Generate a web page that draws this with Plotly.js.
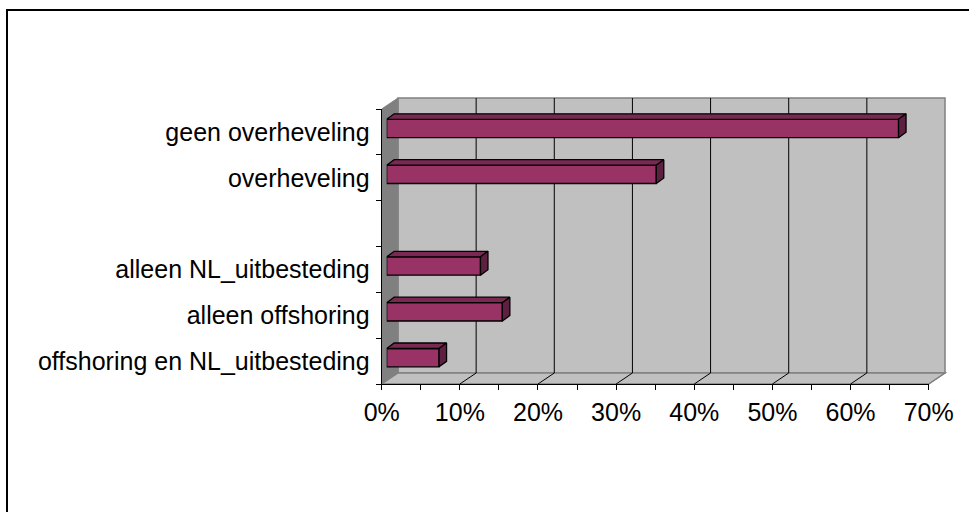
<!DOCTYPE html>
<html>
<head>
<meta charset="utf-8">
<script src="https://cdn.plot.ly/plotly-3.0.1.min.js"></script>
<style>
  html, body { margin: 0; padding: 0; background: #fff; }
  #chart { width: 969px; height: 512px; }
</style>
</head>
<body>
<div id="chart"></div>
<script>
// ---- data (top to bottom, as in the chart; "" is the empty spacer row) ----
const categories = ["geen overheveling", "overheveling", "", "alleen NL_uitbesteding", "alleen offshoring", "offshoring en NL_uitbesteding"];
const values = [65.5, 34.5, null, 12.0, 14.8, 6.7];
const xTickVals = [0, 10, 20, 30, 40, 50, 60, 70];
const xTickText = ["0%", "10%", "20%", "30%", "40%", "50%", "60%", "70%"];

// ---- geometry (pixels) ----
const W = 969, H = 512;
const X0 = 381.7, X1 = 928.7;      // front plane 0% and 70%
const YT = 109, YB = 384;          // front plane top / bottom
const DX = 16.3, DY = 11;          // depth of the 3D box
const BX = 5, BY = 3.4;            // offset of bar front faces from front plane
const BDX = 7.5, BDY = 5.5;        // bar depth
const XMAX = 70;
const nCat = categories.length;
const pxPct = (X1 - X0) / XMAX;
const pxCat = (YB - YT) / nCat;
const fx = x => x / W;
const fy = y => 1 - y / H;

const barColor = '#993366', topColor = '#7a2953', sideColor = '#5e2040';
const FONT = 'Liberation Sans, Arial, sans-serif';
const FS = 25;

// positions: top category gets highest index
const pos = categories.map((c, i) => nCat - 1 - i);
const barW = 0.4;
const ox = BDX / pxPct, oy = BDY / pxCat;

const traces = [];
// invisible trace to anchor the front plane
traces.push({type: 'scatter', x: [0], y: [0], xaxis: 'x', yaxis: 'y', mode: 'markers',
  marker: {opacity: 0}, hoverinfo: 'skip', showlegend: false});

const bx = [], by = [];
categories.forEach((c, i) => { if (values[i] != null) { bx.push(values[i]); by.push(pos[i]); } });
traces.push({type: 'bar', orientation: 'h', x: bx, y: by, xaxis: 'x2', yaxis: 'y2',
  width: barW, marker: {color: barColor, line: {color: '#000', width: 1.3}},
  hoverinfo: 'skip', showlegend: false});

categories.forEach((c, i) => {
  const v = values[i];
  if (v == null) return;
  const p = pos[i], t = p + barW / 2, b = p - barW / 2;
  traces.push({type: 'scatter', xaxis: 'x2', yaxis: 'y2', mode: 'lines', fill: 'toself',
    x: [0, v, v + ox, ox, 0], y: [t, t, t + oy, t + oy, t],
    fillcolor: topColor, line: {color: '#000', width: 1.3}, cliponaxis: false,
    hoverinfo: 'skip', showlegend: false});
  traces.push({type: 'scatter', xaxis: 'x2', yaxis: 'y2', mode: 'lines', fill: 'toself',
    x: [v, v + ox, v + ox, v, v], y: [b, b + oy, t + oy, t, b],
    fillcolor: sideColor, line: {color: '#000', width: 1.3}, cliponaxis: false,
    hoverinfo: 'skip', showlegend: false});
});

// ---- decorative 3D box (walls, floor, gridlines) ----
const shapes = [];
const P = (x, y) => fx(x).toFixed(5) + ',' + fy(y).toFixed(5);
// outer chart frame
shapes.push({type: 'rect', xref: 'paper', yref: 'paper', x0: fx(7), y0: fy(10), x1: 1.2, y1: -0.2,
  line: {color: '#000', width: 2}, layer: 'below'});
// back wall
shapes.push({type: 'rect', xref: 'paper', yref: 'paper', x0: fx(X0 + DX), x1: fx(X1 + DX), y0: fy(YB - DY), y1: fy(YT - DY),
  fillcolor: '#c0c0c0', line: {color: '#808080', width: 1.5}, layer: 'below'});
// left wall
shapes.push({type: 'path', xref: 'paper', yref: 'paper',
  path: 'M' + P(X0, YT) + 'L' + P(X0 + DX, YT - DY) + 'L' + P(X0 + DX, YB - DY) + 'L' + P(X0, YB) + 'Z',
  fillcolor: '#808080', line: {color: '#808080', width: 1}, layer: 'below'});
// floor
shapes.push({type: 'path', xref: 'paper', yref: 'paper',
  path: 'M' + P(X0, YB) + 'L' + P(X1, YB) + 'L' + P(X1 + DX, YB - DY) + 'L' + P(X0 + DX, YB - DY) + 'Z',
  fillcolor: '#c0c0c0', line: {color: '#808080', width: 1.5}, layer: 'below'});
// gridlines on back wall and floor
xTickVals.forEach(v => {
  if (v === 0) return;
  const xb = X0 + DX + v * pxPct, xf = X0 + v * pxPct;
  const col = v === XMAX ? '#808080' : '#000';
  if (v < XMAX) shapes.push({type: 'line', xref: 'paper', yref: 'paper', x0: fx(xb), x1: fx(xb), y0: fy(YT - DY), y1: fy(YB - DY),
    line: {color: '#000', width: 1}, layer: 'below'});
  shapes.push({type: 'line', xref: 'paper', yref: 'paper', x0: fx(xf), x1: fx(xb), y0: fy(YB), y1: fy(YB - DY),
    line: {color: col, width: 1}, layer: 'below'});
});

const layout = {
  width: W, height: H,
  margin: {l: 0, r: 0, t: 0, b: 0},
  paper_bgcolor: '#fff', plot_bgcolor: 'rgba(0,0,0,0)',
  showlegend: false,
  font: {family: FONT, size: FS, color: '#000'},
  xaxis: {domain: [fx(X0), fx(X1)], range: [0, XMAX], anchor: 'y',
    tickmode: 'array', tickvals: xTickVals, ticktext: xTickText,
    ticks: 'outside', ticklen: 5, tickcolor: '#000', tickwidth: 1, ticklabelstandoff: 1,
    minor: {tickmode: 'linear', tick0: 0, dtick: 5, ticks: 'outside', ticklen: 5, tickcolor: '#000', tickwidth: 1, showgrid: false},
    showline: true, linecolor: '#000', linewidth: 1, showgrid: false, zeroline: false,
    tickfont: {family: FONT, size: FS, color: '#000'}, fixedrange: true},
  yaxis: {domain: [fy(YB), fy(YT)], range: [-0.5, nCat - 0.5], anchor: 'x',
    tickmode: 'array', tickvals: pos, ticktext: categories,
    ticks: '', ticklabelstandoff: 6,
    minor: {tickmode: 'linear', tick0: -0.5, dtick: 1, ticks: 'outside', ticklen: 5, tickcolor: '#000', tickwidth: 1, showgrid: false},
    showline: true, linecolor: '#000', linewidth: 1, showgrid: false, zeroline: false,
    tickfont: {family: FONT, size: FS, color: '#000'}, fixedrange: true},
  xaxis2: {domain: [fx(X0 + BX), fx(X1 + BX)], range: [0, XMAX], anchor: 'y2', visible: false, fixedrange: true},
  yaxis2: {domain: [fy(YB - BY), fy(YT - BY)], range: [-0.5, nCat - 0.5], anchor: 'x2', visible: false, fixedrange: true},
  shapes: shapes
};

Plotly.newPlot('chart', traces, layout, {displayModeBar: false, staticPlot: true});
</script>
</body>
</html>
